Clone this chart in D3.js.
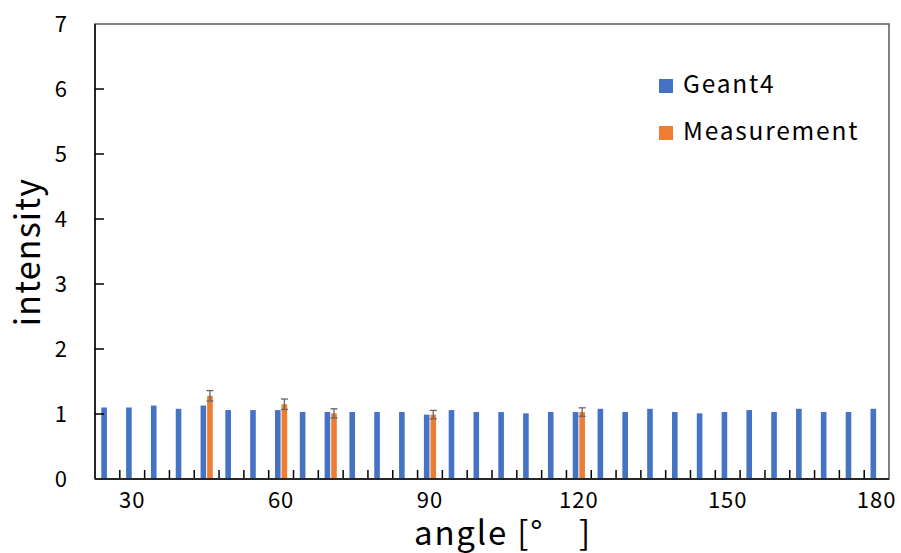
<!DOCTYPE html>
<html>
<head>
<meta charset="utf-8">
<script src="https://cdn.jsdelivr.net/npm/d3@7"></script>
<style>
  body { margin: 0; background: #fff; }
  text { font-family: "Noto Sans CJK JP", "Noto Sans", sans-serif; fill: #000; }
</style>
</head>
<body>
<div id="container"></div>
<script>
// angles (categories)
const angles = d3.range(25, 181, 5)
// Geant4 intensity per angle
const geant4 = [1.10, 1.10, 1.13, 1.08, 1.13, 1.06, 1.06, 1.06, 1.03, 1.03,
                1.03, 1.03, 1.03, 0.99, 1.06, 1.03, 1.03, 1.01, 1.03, 1.03,
                1.08, 1.03, 1.08, 1.03, 1.01, 1.03, 1.06, 1.03, 1.08, 1.03,
                1.03, 1.08]
// measurement points
const measAngles = [45, 60, 70, 90, 120]
const measValues = [1.28, 1.15, 1.01, 0.99, 1.03]
const measErrors = [0.08, 0.08, 0.07, 0.065, 0.065]
const xLabels = [30, 60, 90, 120, 150, 180]
const yTicks = [0, 1, 2, 3, 4, 5, 6, 7]

const width = 901
const height = 553
const plotL = 95, plotR = 889, plotT = 24, plotB = 479

const svg = d3.select("#container").append("svg")
    .attr("width", width).attr("height", height)

const x = d3.scaleBand().domain(angles).range([plotL, plotR])
const y = d3.scaleLinear().domain([0, 7]).range([plotB, plotT])
const bw = 5.6

// frame
svg.append("rect").attr("x", plotL).attr("y", plotT)
    .attr("width", plotR - plotL).attr("height", plotB - plotT)
    .attr("fill", "none").attr("stroke", "#595959").attr("stroke-width", 1.5)

// bars
svg.append("g").selectAll("rect").data(angles).enter().append("rect")
    .attr("x", d => x(d) + x.bandwidth() / 2 - bw - 0.5)
    .attr("y", (d, i) => y(geant4[i]))
    .attr("width", bw)
    .attr("height", (d, i) => plotB - y(geant4[i]))
    .attr("fill", "#4472C4")

const meas = measAngles.map((a, i) => ({a, v: measValues[i], e: measErrors[i]}))
svg.append("g").selectAll("rect").data(meas).enter().append("rect")
    .attr("x", d => x(d.a) + x.bandwidth() / 2 + 0.5)
    .attr("y", d => y(d.v))
    .attr("width", bw)
    .attr("height", d => plotB - y(d.v))
    .attr("fill", "#ED7D31")

// error bars
const eb = svg.append("g").attr("stroke", "#666").attr("stroke-width", 1.3)
meas.forEach(d => {
  const cx = x(d.a) + x.bandwidth() / 2 + 0.5 + bw / 2
  eb.append("line").attr("x1", cx).attr("x2", cx).attr("y1", y(d.v + d.e)).attr("y2", y(d.v - d.e))
  eb.append("line").attr("x1", cx - 3.5).attr("x2", cx + 3.5).attr("y1", y(d.v + d.e)).attr("y2", y(d.v + d.e))
  eb.append("line").attr("x1", cx - 3.5).attr("x2", cx + 3.5).attr("y1", y(d.v - d.e)).attr("y2", y(d.v - d.e))
})

// x axis: ticks between categories, pointing up
const xg = svg.append("g")
xg.selectAll("line").data(angles.slice(1)).enter().append("line")
    .attr("x1", d => x(d)).attr("x2", d => x(d))
    .attr("y1", plotB).attr("y2", plotB - 9)
    .attr("stroke", "#000").attr("stroke-width", 1.5)
xg.append("line").attr("x1", plotL).attr("x2", plotR).attr("y1", plotB).attr("y2", plotB)
    .attr("stroke", "#262626").attr("stroke-width", 2)
xg.selectAll("text").data(xLabels).enter().append("text")
    .attr("x", d => x(d) + x.bandwidth() / 2)
    .attr("y", 508)
    .attr("text-anchor", "middle")
    .attr("font-size", 22)
    .attr("letter-spacing", 1)
    .text(d => d)

// y axis
const yg = svg.append("g")
yg.append("line").attr("x1", plotL).attr("x2", plotL).attr("y1", plotT).attr("y2", plotB)
    .attr("stroke", "#262626").attr("stroke-width", 2)
yg.selectAll("line.t").data(yTicks.slice(1, -1)).enter().append("line")
    .attr("class", "t")
    .attr("x1", plotL).attr("x2", plotL + 9)
    .attr("y1", d => y(d)).attr("y2", d => y(d))
    .attr("stroke", "#000").attr("stroke-width", 1.5)
yg.selectAll("text").data(yTicks).enter().append("text")
    .attr("x", 67)
    .attr("y", d => y(d) + 8)
    .attr("text-anchor", "end")
    .attr("font-size", 22)
    .text(d => d)

// titles
svg.append("text")
    .attr("transform", "translate(40,252) rotate(-90)")
    .attr("text-anchor", "middle")
    .attr("font-size", 34)
    .attr("letter-spacing", 1.2)
    .text("intensity")
svg.append("text")
    .attr("x", 503).attr("y", 545)
    .attr("text-anchor", "middle")
    .attr("font-size", 33)
    .attr("letter-spacing", 1.8)
    .text("angle [°　]")

// legend
const legend = [["Geant4", "#4472C4"], ["Measurement", "#ED7D31"]]
legend.forEach((l, i) => {
  svg.append("rect").attr("x", 659).attr("y", 79 + i * 47).attr("width", 14).attr("height", 14).attr("fill", l[1])
  svg.append("text").attr("x", 683).attr("y", 93 + i * 47)
      .attr("font-size", 24.5).attr("letter-spacing", 1.8).text(l[0])
})
</script>
</body>
</html>
